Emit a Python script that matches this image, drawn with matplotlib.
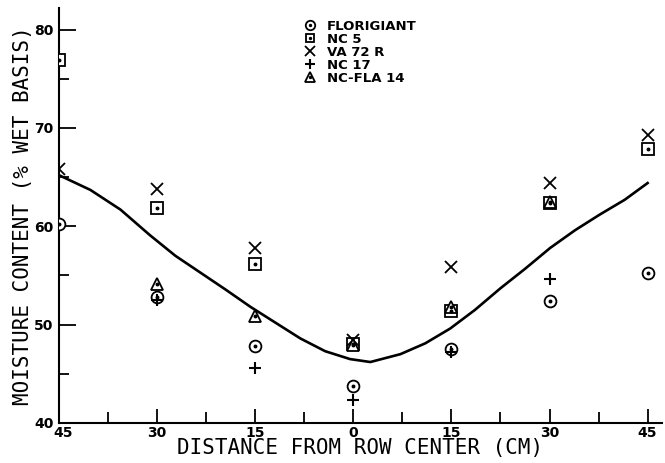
import numpy as np
import matplotlib
matplotlib.use("Agg")
import matplotlib.pyplot as plt
import matplotlib.transforms as mtransforms
from matplotlib.ticker import FixedLocator, FixedFormatter

# ---- data ----
positions = [-45, -30, -15, 0, 15, 30, 45]
tick_labels = ["45", "30", "15", "0", "15", "30", "45"]
nan = np.nan
florigiant = [60.2, 52.8, 47.8, 43.8, 47.5, 52.4, 55.3]
nc5 = [76.9, 61.9, 56.2, 48.0, 51.4, 62.4, 67.9]
va72r = [65.8, 63.8, 57.8, 48.4, 55.9, 64.4, 69.3]
nc17 = [nan, 52.5, 45.6, 42.3, 47.2, 54.6, nan]
ncfla14 = [nan, 54.1, 50.9, 47.9, 51.8, 62.5, nan]

curve_x = [-45, -40.2, -35.6, -31.1, -27.2, -23.4, -19.6, -15.7, -11.9, -8.1, -4.3,
           -0.5, 2.6, 7.2, 11.0, 14.8, 18.6, 22.5, 26.3, 30.1, 33.9, 37.7, 41.5, 45]
curve_y = [65.2, 63.7, 61.7, 59.1, 57.0, 55.3, 53.6, 51.8, 50.2, 48.6, 47.3,
           46.5, 46.2, 47.0, 48.1, 49.6, 51.5, 53.7, 55.7, 57.8, 59.6, 61.2, 62.7, 64.4]

fig = plt.figure(figsize=(6.65, 4.63), dpi=100)
ax = fig.add_axes([59/665, 40/463, (662-59)/665, (423-8)/463])

ax.plot(curve_x, curve_y, color="black", lw=1.9, zorder=2)

k = "black"
c1, = ax.plot(positions, florigiant, ls="none", marker="o", ms=8.5, mfc="white", mec=k, mew=1.3, zorder=3)
c1d, = ax.plot(positions, florigiant, ls="none", marker="o", ms=1.8, color=k, zorder=4)
s1, = ax.plot(positions, nc5, ls="none", marker="s", ms=8, mfc="white", mec=k, mew=1.3, zorder=3)
s1d, = ax.plot(positions, nc5, ls="none", marker="o", ms=1.8, color=k, zorder=4)
x1, = ax.plot(positions, va72r, ls="none", marker="x", ms=8.5, color=k, mew=1.3, zorder=3)
p1, = ax.plot(positions, nc17, ls="none", marker="+", ms=9, color=k, mew=1.5, zorder=3)
t1, = ax.plot(positions, ncfla14, ls="none", marker="^", ms=9, mfc="white", mec=k, mew=1.3, zorder=3)
t1d, = ax.plot(positions, ncfla14, ls="none", marker="o", ms=1.8, color=k, zorder=4)

ax.set_xlim(-45, 47.2)
ax.set_ylim(40, 82.2)

for sp in ["top", "right"]:
    ax.spines[sp].set_visible(False)
for sp in ["left", "bottom"]:
    ax.spines[sp].set_linewidth(1.5)

ax.xaxis.set_major_locator(FixedLocator(positions))
ax.xaxis.set_major_formatter(FixedFormatter(tick_labels))
ax.xaxis.set_minor_locator(FixedLocator([-37.5, -22.5, -7.5, 7.5, 22.5, 37.5]))
ax.set_yticks([40, 50, 60, 70, 80])
ax.yaxis.set_minor_locator(FixedLocator([45, 55, 65, 75]))

ax.tick_params(axis="x", which="major", direction="in", length=10, width=1.3, pad=2, labelsize=10)
ax.tick_params(axis="x", which="minor", direction="in", length=8, width=1.3)
ax.tick_params(axis="y", which="major", direction="in", length=12, width=1.3, pad=4, labelsize=10)
ax.tick_params(axis="y", which="minor", direction="in", length=7, width=1.3)
for lab in ax.get_xticklabels() + ax.get_yticklabels():
    lab.set_fontweight("bold")
    lab.set_family("DejaVu Sans")

fig.canvas.draw()
first = ax.get_xticklabels()[0]
first.set_transform(first.get_transform() + mtransforms.ScaledTranslation(4/100, 0, fig.dpi_scale_trans))

ax.set_xlabel("DISTANCE FROM ROW CENTER (CM)", family="DejaVu Sans Mono", fontsize=15, labelpad=-1)
ax.set_ylabel("MOISTURE CONTENT (% WET BASIS)", family="DejaVu Sans Mono", fontsize=15, labelpad=1)

leg = ax.legend([(c1, c1d), (s1, s1d), x1, p1, (t1, t1d)],
                ["FLORIGIANT", "NC 5", "VA 72 R", "NC 17", "NC-FLA 14"],
                loc="upper left", bbox_to_anchor=(0.385, 1.0), frameon=False,
                handlelength=1.0, handletextpad=0.8, labelspacing=0.0,
                markerscale=0.8, prop={"family": "DejaVu Sans", "weight": "bold", "size": 9.5})

fig.savefig("out.png", dpi=100)
